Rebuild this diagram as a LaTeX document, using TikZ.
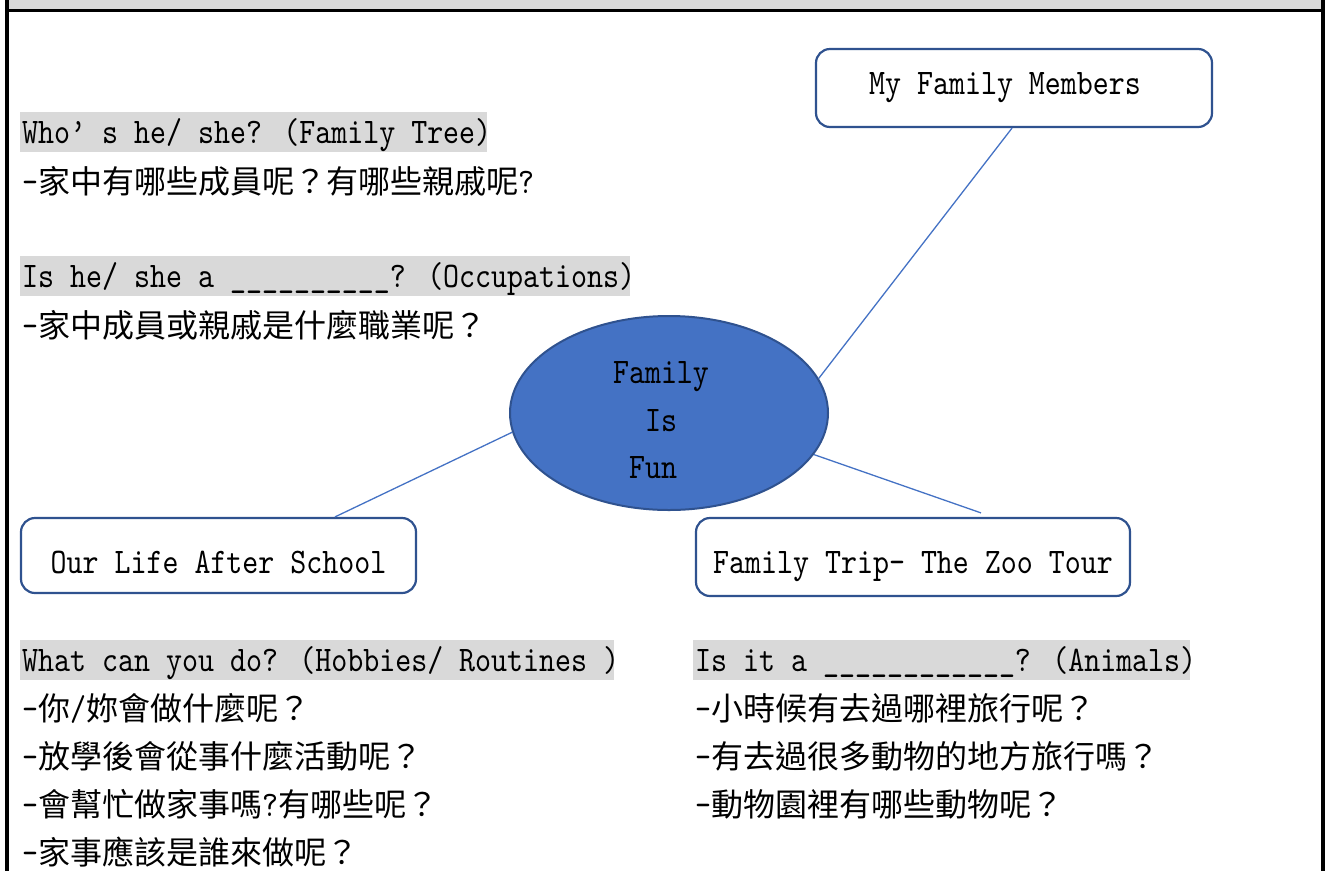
\documentclass[tikz,border=0pt]{standalone}
\usepackage{fontspec}
\newfontfamily\latmono{lmmono10-regular.otf}[FakeStretch=0.846]
\newfontfamily\cjkfont{Noto Sans CJK TC}
\usetikzlibrary{shapes.geometric}
\definecolor{edgeblue}{HTML}{2F528F}
\definecolor{fillblue}{HTML}{4472C4}
\definecolor{hlgray}{HTML}{D9D9D9}
\newcommand\zh[1]{{\cjkfont\fontsize{32}{40}\selectfont #1}}
\begin{document}
\begin{tikzpicture}[x=1pt,y=-1pt,
  every node/.style={font=\latmono\fontsize{36}{40}\selectfont, text=black},
  topicbox/.style={draw=edgeblue, line width=2.2pt, rounded corners=14pt, fill=white, inner sep=0pt},
  hl/.style={fill=hlgray, anchor=base west, inner xsep=2pt, inner ysep=0pt, text height=31pt, text depth=9pt},
  plain/.style={anchor=base west, inner sep=0pt},
  link/.style={draw=fillblue, line width=1.3pt},
  core/.style={ellipse, fill=fillblue, draw=edgeblue, line width=2pt, minimum width=318pt, minimum height=194pt, inner sep=0pt},
  coretext/.style={anchor=base, inner sep=0pt}
]
\useasboundingbox (0,0) rectangle (1325,871);
% page frame
\fill[hlgray] (8.7,0) rectangle (1321,9.3);
\fill[black] (4.7,0) rectangle (8.7,871);
\fill[black] (1321,0) rectangle (1325,871);
\fill[black] (8.7,9.3) rectangle (1321,11.7);

% central ellipse
\node[core] (core) at (669,413) {};
\node[coretext] (coreA) at (661,383) {Family};
\node[coretext] (coreB) at (661,431) {Is};
\node[coretext] (coreC) at (653,478) {Fun};

% topic boxes
\node[topicbox, minimum width=396pt, minimum height=78pt, text height=12pt, text depth=0pt] (fam) at (1014,88) {My Family Members\hspace*{18pt}};
\node[topicbox, minimum width=395pt, minimum height=75pt, text height=35pt, text depth=0pt] (life) at (218.5,555.5) {Our Life After School};
\node[topicbox, minimum width=434pt, minimum height=78pt, text height=32pt, text depth=0pt] (trip) at (913,557) {Family Trip- The Zoo Tour};

% connectors
\draw[link] ([xshift=-2pt]fam.south) -- (core.13);
\draw[link] (core.187) -- ([xshift=116.5pt]life.north);
\draw[link] (core.-16) -- ([xshift=68pt,yshift=4pt]trip.north);

% upper left texts
\node[hl] (q1) at (20,143) {\makebox[463pt][l]{Who’ s he/ she? (Family Tree)}};
\node[plain] (a1) at (22,193) {-\zh{家中有哪些成員呢？有哪些親戚呢}?};
\node[hl] (q2) at (20,287) {\makebox[606pt][l]{Is he/ she a \_\_\_\_\_\_\_\_\_\_? (Occupations)}};
\node[plain] (a2) at (22,337) {-\zh{家中成員或親戚是什麼職業呢？}};

% lower left texts
\node[hl] (q3) at (20,671) {\makebox[590pt][l]{What can you do? (Hobbies/ Routines )}};
\node[plain] (b1) at (22,720) {-\zh{你}/\zh{妳會做什麼呢？}};
\node[plain] (b2) at (22,768) {-\zh{放學後會從事什麼活動呢？}};
\node[plain] (b3) at (22,816) {-\zh{會幫忙做家事嗎}?\zh{有哪些呢？}};
\node[plain] (b4) at (22,864) {-\zh{家事應該是誰來做呢？}};

% lower right texts
\node[hl] (q4) at (693,671) {\makebox[493pt][l]{Is it a \_\_\_\_\_\_\_\_\_\_\_\_? (Animals)}};
\node[plain] (c1) at (695,720) {-\zh{小時候有去過哪裡旅行呢？}};
\node[plain] (c2) at (695,768) {-\zh{有去過很多動物的地方旅行嗎？}};
\node[plain] (c3) at (695,816) {-\zh{動物園裡有哪些動物呢？}};
\end{tikzpicture}
\end{document}
